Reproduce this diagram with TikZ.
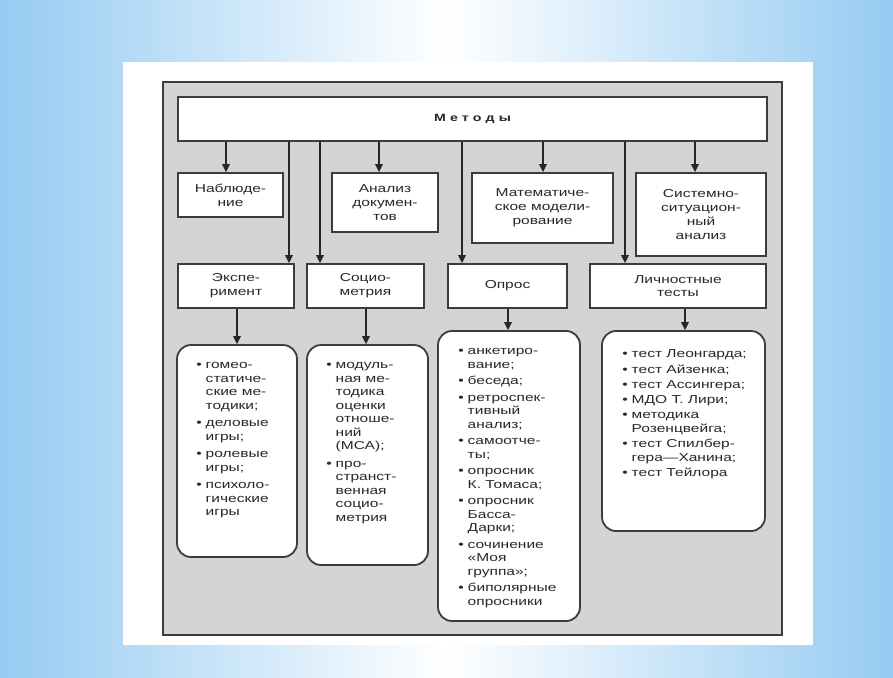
\documentclass[tikz,border=0pt]{standalone}
\usepackage{fontspec}
\setmainfont[FakeStretch=1.35]{Liberation Sans}
\usetikzlibrary{arrows.meta,calc}
\definecolor{bgblue}{RGB}{150,203,242}
\definecolor{framegray}{RGB}{212,212,212}
\definecolor{edge}{RGB}{60,60,60}
\definecolor{ink}{RGB}{40,40,40}
\begin{document}
\begin{tikzpicture}[x=1pt,y=-1pt,
  box/.style={draw=edge, line width=1.8pt, fill=white, inner sep=0pt, align=center, text=ink, font=\fontsize{11.5}{13.8}\selectfont},
  rbox/.style={draw=edge, line width=1.8pt, fill=white, rounded corners=14pt, inner sep=0pt},
  arr/.style={draw=black!85, line width=1.5pt, -{Triangle[length=8pt,width=7.5pt]}},
  list/.style={anchor=north west, inner sep=0pt, align=left, text=ink, font=\fontsize{11.5}{13.5}\selectfont}
]
\useasboundingbox (0,0) rectangle (893,677);
% background
\fill[left color=bgblue, right color=bgblue, middle color=white] (0,0) rectangle (893,677);
\fill[white] (123,62) rectangle (813,645);
% frame
\draw[draw=edge, line width=1.8pt, fill=framegray] (163,82) rectangle (782,635);

% main box
\node[box, minimum width=589pt, minimum height=44pt] (metody) at (472.5,119)
  {\fontsize{10.5}{12}\selectfont\bfseries\addfontfeature{LetterSpace=40}Методы};

% row 1
\node[box, minimum width=105pt, minimum height=44pt] (nabl) at (230.5,195) {Наблюде-\\ние};
\node[box, minimum width=106pt, minimum height=59pt] (anal) at (385,202.5) {Анализ\\докумен-\\тов};
\node[box, minimum width=141pt, minimum height=70pt] (mat) at (542.5,208) {Математиче-\\ское модели-\\рование};
\node[box, minimum width=130pt, minimum height=83pt] (sys) at (701,214.5) {Системно-\\ситуацион-\\ный\\анализ};

% row 2
\node[box, minimum width=116pt, minimum height=44pt] (eksp) at (236,286) {Экспе-\\римент};
\node[box, minimum width=117pt, minimum height=44pt] (soc) at (365.5,286) {Социо-\\метрия};
\node[box, minimum width=119pt, minimum height=44pt] (opros) at (507.5,286) {Опрос};
\node[box, minimum width=176pt, minimum height=44pt] (lich) at (678,286) {Личностные\\тесты};

% rounded boxes
\node[rbox, minimum width=120pt, minimum height=212pt] (ra) at (237,451) {};
\node[rbox, minimum width=121pt, minimum height=220pt] (rb) at (367.5,455) {};
\node[rbox, minimum width=142pt, minimum height=290pt] (rc) at (509,476) {};
\node[rbox, minimum width=163pt, minimum height=200pt] (rd) at (683.5,431) {};

\node[list] (ta) at ($(ra.north west)+(20,15)$) {%
\begin{tabular}{@{}l@{\hspace{4pt}}l@{}}
\textbullet & гомео-\\ & статиче-\\ & ские ме-\\ & тодики;\\[4pt]
\textbullet & деловые\\ & игры;\\[4pt]
\textbullet & ролевые\\ & игры;\\[4pt]
\textbullet & психоло-\\ & гические\\ & игры
\end{tabular}};

\node[list] (tb) at ($(rb.north west)+(20,15)$) {%
\begin{tabular}{@{}l@{\hspace{4pt}}l@{}}
\textbullet & модуль-\\ & ная ме-\\ & тодика\\ & оценки\\ & отноше-\\ & ний\\ & (МСА);\\[4pt]
\textbullet & про-\\ & странст-\\ & венная\\ & социо-\\ & метрия
\end{tabular}};

\node[list] (tc) at ($(rc.north west)+(21,15)$) {%
\begin{tabular}{@{}l@{\hspace{4pt}}l@{}}
\textbullet & анкетиро-\\ & вание;\\[3pt]
\textbullet & беседа;\\[3pt]
\textbullet & ретроспек-\\ & тивный\\ & анализ;\\[3pt]
\textbullet & самоотче-\\ & ты;\\[3pt]
\textbullet & опросник\\ & К. Томаса;\\[3pt]
\textbullet & опросник\\ & Басса-\\ & Дарки;\\[3pt]
\textbullet & сочинение\\ & «Моя\\ & группа»;\\[3pt]
\textbullet & биполярные\\ & опросники
\end{tabular}};

\node[list] (td) at ($(rd.north west)+(21,18)$) {%
\begin{tabular}{@{}l@{\hspace{4pt}}l@{}}
\textbullet & тест Леонгарда;\\[1.8pt]
\textbullet & тест Айзенка;\\[1.8pt]
\textbullet & тест Ассингера;\\[1.8pt]
\textbullet & МДО Т. Лири;\\[1.8pt]
\textbullet & методика\\ & Розенцвейга;\\[1.8pt]
\textbullet & тест Спилбер-\\ & гера—Ханина;\\[1.8pt]
\textbullet & тест Тейлора
\end{tabular}};

% connector x positions
\coordinate (a1) at (226,0);
\coordinate (a2) at (379,0);
\coordinate (a3) at (543,0);
\coordinate (a4) at (695,0);
\coordinate (l1) at (289,0);
\coordinate (l2) at (320,0);
\coordinate (l3) at (462,0);
\coordinate (l4) at (625,0);
\coordinate (d1) at (237,0);
\coordinate (d2) at (366,0);
\coordinate (d3) at (508,0);
\coordinate (d4) at (685,0);

\draw[arr] (metody.south -| a1) -- (nabl.north -| a1);
\draw[arr] (metody.south -| a2) -- (anal.north -| a2);
\draw[arr] (metody.south -| a3) -- (mat.north -| a3);
\draw[arr] (metody.south -| a4) -- (sys.north -| a4);

\draw[arr] (metody.south -| l1) -- (eksp.north -| l1);
\draw[arr] (metody.south -| l2) -- (soc.north -| l2);
\draw[arr] (metody.south -| l3) -- (opros.north -| l3);
\draw[arr] (metody.south -| l4) -- (lich.north -| l4);

\draw[arr] (eksp.south -| d1) -- (ra.north -| d1);
\draw[arr] (soc.south -| d2) -- (rb.north -| d2);
\draw[arr] (opros.south -| d3) -- (rc.north -| d3);
\draw[arr] (lich.south -| d4) -- (rd.north -| d4);
\end{tikzpicture}
\end{document}
